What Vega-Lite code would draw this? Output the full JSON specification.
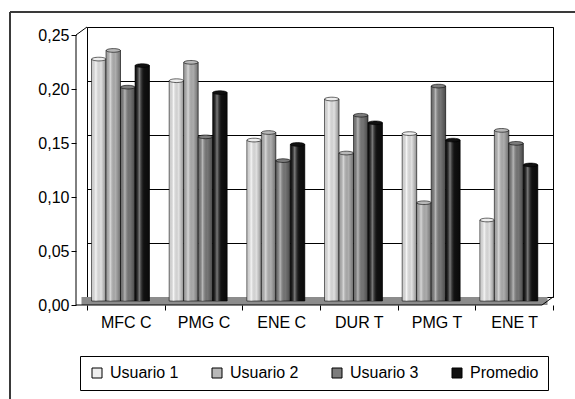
{
  "$schema": "https://vega.github.io/schema/vega-lite/v6.json",
  "width": 466,
  "height": 270,
  "autosize": {"type": "none"},
  "padding": {"left": 87, "top": 27, "right": 22, "bottom": 102},
  "background": "white",
  "config": {
    "view": {"stroke": "#000", "strokeWidth": 1},
    "font": "Liberation Sans",
    "axis": {"labelFont": "Liberation Sans", "labelFontSize": 16, "labelColor": "#000", "tickColor": "#000"}
  },
  "datasets": {
    "d": [
      {"category": "MFC C", "series": "Usuario 1", "value": 0.224},
      {"category": "MFC C", "series": "Usuario 2", "value": 0.232},
      {"category": "MFC C", "series": "Usuario 3", "value": 0.198},
      {"category": "MFC C", "series": "Promedio", "value": 0.218},
      {"category": "PMG C", "series": "Usuario 1", "value": 0.204},
      {"category": "PMG C", "series": "Usuario 2", "value": 0.221},
      {"category": "PMG C", "series": "Usuario 3", "value": 0.152},
      {"category": "PMG C", "series": "Promedio", "value": 0.193},
      {"category": "ENE C", "series": "Usuario 1", "value": 0.149},
      {"category": "ENE C", "series": "Usuario 2", "value": 0.156},
      {"category": "ENE C", "series": "Usuario 3", "value": 0.130},
      {"category": "ENE C", "series": "Promedio", "value": 0.145},
      {"category": "DUR T", "series": "Usuario 1", "value": 0.187},
      {"category": "DUR T", "series": "Usuario 2", "value": 0.137},
      {"category": "DUR T", "series": "Usuario 3", "value": 0.172},
      {"category": "DUR T", "series": "Promedio", "value": 0.165},
      {"category": "PMG T", "series": "Usuario 1", "value": 0.155},
      {"category": "PMG T", "series": "Usuario 2", "value": 0.091},
      {"category": "PMG T", "series": "Usuario 3", "value": 0.199},
      {"category": "PMG T", "series": "Promedio", "value": 0.149},
      {"category": "ENE T", "series": "Usuario 1", "value": 0.075},
      {"category": "ENE T", "series": "Usuario 2", "value": 0.158},
      {"category": "ENE T", "series": "Usuario 3", "value": 0.146},
      {"category": "ENE T", "series": "Promedio", "value": 0.126}
    ]
  },
  "resolve": {"axis": {"y": "independent"}},
  "layer": [
    {
      "data": {"values": [{}]},
      "mark": {"type": "rect", "fill": "#8c8c8c", "xOffset": -5.5, "x2Offset": -5.5, "y2Offset": 8},
      "encoding": {
        "x": {
          "datum": "MFC C", "bandPosition": 0,
          "scale": {"domain": ["MFC C", "PMG C", "ENE C", "DUR T", "PMG T", "ENE T"], "paddingInner": 0, "paddingOuter": 0},
          "axis": {"orient": "bottom", "offset": 8, "tickOffset": -11, "tickBand": "extent", "domain": false, "tickSize": 5, "labelPadding": 4, "labelAngle": 0, "title": null}
        },
        "x2": {"datum": "ENE T", "bandPosition": 1},
        "y": {"datum": 0, "type": "quantitative", "axis": null},
        "y2": {"datum": 0}
      }
    },
    {
      "data": {"name": "d"},
      "mark": {"type": "bar", "stroke": "#000", "strokeWidth": 0.6, "yOffset": 4, "y2Offset": 4},
      "encoding": {
        "x": {"field": "category", "type": "nominal", "sort": ["MFC C", "PMG C", "ENE C", "DUR T", "PMG T", "ENE T"]},
        "xOffset": {
          "field": "series", "type": "nominal",
          "sort": ["Usuario 1", "Usuario 2", "Usuario 3", "Promedio"],
          "scale": {"domain": ["Usuario 1", "Usuario 2", "Usuario 3", "Promedio"], "paddingInner": 0, "paddingOuter": 0.68, "align": 0.23}
        },
        "y": {
          "field": "value", "type": "quantitative",
          "scale": {"domain": [0, 0.25], "nice": false, "zero": true},
          "axis": {"orient": "left", "grid": true, "values": [0, 0.05, 0.1, 0.15, 0.2, 0.25], "labels": false, "ticks": false, "domain": false, "title": null, "gridColor": "#000", "gridWidth": 1}
        },
        "color": {
          "field": "series", "type": "nominal",
          "scale": {"domain": ["Usuario 1", "Usuario 2", "Usuario 3", "Promedio"], "range": ["#eeeeee", "#b8b8b8", "#7c7c7c", "#111111"]},
          "legend": {
            "orient": "none", "legendX": -7, "legendY": 329, "direction": "horizontal", "columns": 4,
            "title": null, "symbolType": "square", "symbolSize": 100, "symbolStrokeColor": "#000", "symbolStrokeWidth": 1,
            "labelFont": "Liberation Sans", "labelFontSize": 16, "labelColor": "#000", "labelOffset": 5,
            "columnPadding": 30, "padding": 9, "strokeColor": "#000", "fillColor": "white"
          }
        }
      }
    },
    {
      "data": {"name": "d"},
      "mark": {
        "type": "bar", "strokeWidth": 0, "yOffset": 4, "y2Offset": 4,
        "fill": {"gradient": "linear", "x1": 0, "x2": 1, "y1": 0, "y2": 0, "stops": [
          {"offset": 0, "color": "rgba(0,0,0,0.08)"},
          {"offset": 0.3, "color": "rgba(255,255,255,0.45)"},
          {"offset": 0.65, "color": "rgba(0,0,0,0.05)"},
          {"offset": 1, "color": "rgba(0,0,0,0.4)"}
        ]}
      },
      "encoding": {
        "x": {"field": "category", "type": "nominal"},
        "xOffset": {"field": "series", "type": "nominal"},
        "y": {"field": "value", "type": "quantitative", "axis": null}
      }
    },
    {
      "data": {"name": "d"},
      "mark": {"type": "point", "shape": "M-1,0A1,0.26,0,1,0,1,0A1,0.26,0,1,0,-1,0Z", "filled": true, "opacity": 1, "size": 200, "stroke": "#000", "strokeWidth": 0.6, "yOffset": 4},
      "encoding": {
        "x": {"field": "category", "type": "nominal"},
        "xOffset": {"field": "series", "type": "nominal"},
        "y": {"field": "value", "type": "quantitative", "axis": null},
        "color": {"field": "series", "type": "nominal", "legend": null}
      }
    },
    {
      "data": {"values": [{}]},
      "mark": {"type": "rule", "stroke": "#000", "strokeWidth": 1, "xOffset": -11, "yOffset": 8, "y2Offset": 8},
      "encoding": {
        "x": {"datum": "MFC C", "bandPosition": 0},
        "y": {
          "datum": 0, "type": "quantitative",
          "axis": {"orient": "left", "offset": 11, "tickOffset": 8, "values": [0, 0.05, 0.1, 0.15, 0.2, 0.25], "labelExpr": "replace(format(datum.value, '.2f'), '.', ',')", "grid": false, "domain": false, "tickSize": 5, "labelPadding": 2, "title": null}
        },
        "y2": {"datum": 0.25}
      }
    },
    {
      "data": {"values": [{}]},
      "mark": {"type": "rule", "stroke": "#000", "strokeWidth": 1, "xOffset": -11, "yOffset": 8},
      "encoding": {
        "x": {"datum": "MFC C", "bandPosition": 0},
        "x2": {"datum": "MFC C", "bandPosition": 0},
        "y": {"datum": 0.25, "type": "quantitative", "axis": null},
        "y2": {"datum": 0.25}
      }
    },
    {
      "data": {"values": [{}]},
      "mark": {"type": "rule", "stroke": "#000", "strokeWidth": 1, "xOffset": -11, "x2Offset": -11, "yOffset": 8},
      "encoding": {
        "x": {"datum": "MFC C", "bandPosition": 0},
        "x2": {"datum": "ENE T", "bandPosition": 1},
        "y": {"datum": 0, "type": "quantitative", "axis": null}
      }
    },
    {
      "data": {"values": [{}]},
      "mark": {"type": "rule", "stroke": "#000", "strokeWidth": 1, "xOffset": -11, "yOffset": 8},
      "encoding": {
        "x": {"datum": "ENE T", "bandPosition": 1},
        "x2": {"datum": "ENE T", "bandPosition": 1},
        "y": {"datum": 0, "type": "quantitative", "axis": null},
        "y2": {"datum": 0}
      }
    },
    {
      "data": {"values": [{}]},
      "mark": {"type": "rule", "stroke": "#3a3a3a", "strokeWidth": 2, "xOffset": -77, "x2Offset": 22, "yOffset": -15},
      "encoding": {
        "x": {"datum": "MFC C", "bandPosition": 0},
        "x2": {"datum": "ENE T", "bandPosition": 1},
        "y": {"datum": 0.25, "type": "quantitative", "axis": null}
      }
    },
    {
      "data": {"values": [{}]},
      "mark": {"type": "rule", "stroke": "#3a3a3a", "strokeWidth": 2, "xOffset": -77, "yOffset": -15, "y2Offset": 102},
      "encoding": {
        "x": {"datum": "MFC C", "bandPosition": 0},
        "y": {"datum": 0.25, "type": "quantitative", "axis": null},
        "y2": {"datum": 0}
      }
    }
  ]
}
